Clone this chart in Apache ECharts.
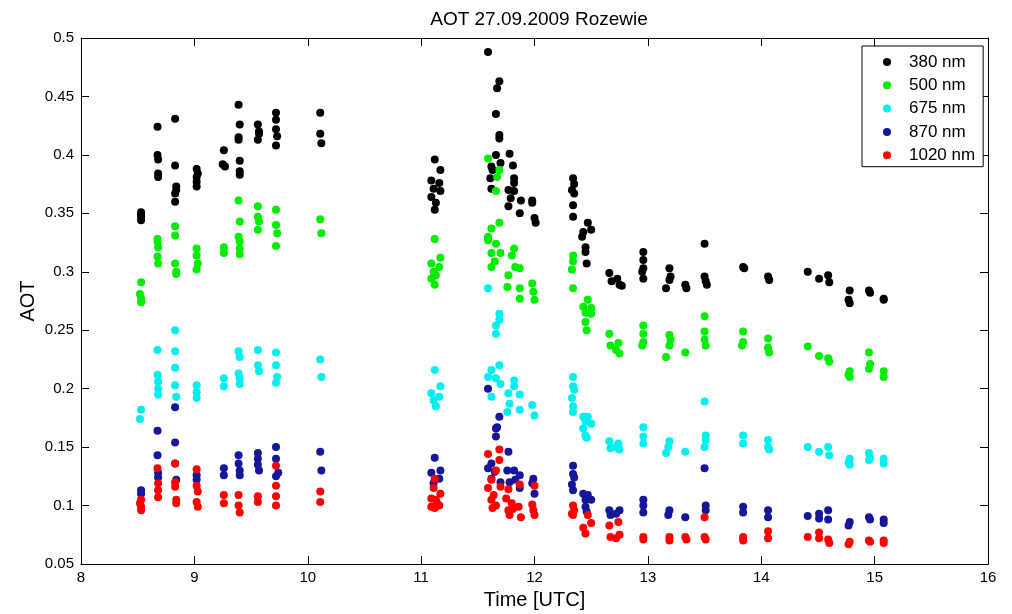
<!DOCTYPE html>
<html>
<head>
<meta charset="utf-8">
<script src="https://cdn.jsdelivr.net/npm/echarts@6/dist/echarts.min.js"></script>
<style>
html,body{margin:0;padding:0;background:#fff;}
#chart{width:1012px;height:614px;}
</style>
</head>
<body>
<div id="chart"></div>
<script>
// Data: [time (UTC hours), AOT]
var aot380 = [
[8.53,0.351],[8.53,0.349],[8.53,0.347],[8.53,0.344],
[8.675,0.424],[8.675,0.400],[8.68,0.396],[8.68,0.384],[8.68,0.381],
[8.83,0.431],[8.83,0.391],[8.84,0.373],[8.84,0.370],[8.83,0.367],[8.83,0.360],
[9.02,0.388],[9.03,0.384],[9.02,0.381],[9.02,0.377],[9.02,0.373],
[9.26,0.404],[9.25,0.392],[9.27,0.390],
[9.39,0.443],[9.40,0.426],[9.39,0.415],[9.39,0.413],[9.40,0.395],[9.40,0.386],[9.40,0.383],
[9.56,0.426],[9.57,0.420],[9.57,0.418],[9.56,0.413],
[9.72,0.436],[9.72,0.430],[9.72,0.422],[9.73,0.416],[9.72,0.408],
[10.11,0.436],[10.11,0.418],[10.12,0.410],
[11.12,0.396],[11.17,0.387],[11.09,0.378],[11.16,0.376],[11.11,0.371],[11.17,0.369],[11.09,0.364],[11.13,0.359],[11.12,0.353],
[11.59,0.488],[11.69,0.463],[11.67,0.457],[11.66,0.435],[11.69,0.417],[11.69,0.414],[11.66,0.400],
[11.62,0.390],[11.63,0.387],[11.61,0.380],[11.62,0.371],[11.70,0.393],
[11.78,0.401],[11.81,0.391],[11.82,0.380],[11.82,0.376],[11.77,0.370],[11.82,0.369],[11.79,0.363],[11.77,0.356],
[11.88,0.361],[11.87,0.350],[11.98,0.361],[11.98,0.359],[12.0,0.346],[12.01,0.342],
[12.34,0.380],[12.35,0.375],[12.33,0.370],[12.35,0.367],[12.34,0.357],[12.34,0.347],
[12.47,0.342],[12.43,0.334],[12.50,0.336],[12.42,0.330],[12.45,0.321],[12.45,0.317],[12.46,0.307],
[12.66,0.299],[12.68,0.292],[12.73,0.294],[12.75,0.289],[12.77,0.288],
[12.96,0.317],[12.96,0.310],[12.96,0.303],[12.95,0.300],[12.96,0.294],
[13.19,0.303],[13.20,0.296],[13.19,0.293],[13.16,0.286],
[13.33,0.289],[13.34,0.286],
[13.50,0.324],[13.50,0.296],[13.51,0.292],[13.52,0.289],
[13.84,0.304],[13.85,0.303],
[14.06,0.296],[14.07,0.293],
[14.41,0.300],[14.51,0.294],[14.59,0.297],[14.60,0.291],
[14.78,0.284],[14.77,0.276],[14.78,0.273],
[14.95,0.284],[14.96,0.282],
[15.08,0.277],[15.08,0.276]
];
var aot500 = [
[8.53,0.291],[8.52,0.281],[8.53,0.277],[8.53,0.274],
[8.675,0.328],[8.675,0.326],[8.68,0.321],[8.675,0.313],[8.68,0.307],
[8.83,0.339],[8.83,0.331],[8.83,0.307],[8.84,0.300],[8.84,0.298],
[9.02,0.320],[9.02,0.314],[9.03,0.307],[9.02,0.302],
[9.26,0.321],[9.26,0.316],
[9.39,0.361],[9.40,0.343],[9.39,0.330],[9.40,0.326],[9.40,0.320],[9.40,0.315],
[9.56,0.356],[9.56,0.347],[9.57,0.343],[9.56,0.336],
[9.72,0.353],[9.72,0.340],[9.73,0.333],[9.72,0.322],
[10.11,0.345],[10.12,0.333],
[11.12,0.328],[11.17,0.312],[11.09,0.307],[11.16,0.304],[11.11,0.300],[11.13,0.297],[11.09,0.294],[11.12,0.289],
[11.59,0.397],[11.69,0.387],[11.67,0.381],[11.66,0.369],
[11.69,0.342],[11.62,0.337],[11.59,0.330],
[11.59,0.327],[11.66,0.324],[11.62,0.316],[11.70,0.316],[11.62,0.304],[11.65,0.309],
[11.82,0.320],[11.80,0.314],[11.83,0.304],[11.87,0.303],
[11.77,0.297],[11.76,0.287],[11.87,0.286],[11.87,0.277],
[11.98,0.290],[11.99,0.283],[12.0,0.276],
[12.34,0.314],[12.34,0.309],[12.33,0.302],[12.34,0.286],
[12.47,0.276],[12.43,0.270],[12.50,0.269],[12.45,0.265],[12.50,0.264],[12.45,0.257],[12.46,0.250],
[12.66,0.247],[12.67,0.237],[12.74,0.239],[12.75,0.230],[12.72,0.233],
[12.96,0.254],[12.96,0.247],[12.96,0.240],[12.95,0.237],
[13.19,0.246],[13.20,0.242],[13.19,0.237],[13.16,0.227],
[13.33,0.231],
[13.50,0.262],[13.50,0.249],[13.50,0.242],[13.51,0.237],
[13.84,0.249],[13.84,0.240],[13.83,0.237],
[14.06,0.243],[14.06,0.235],[14.07,0.231],
[14.41,0.236],[14.51,0.228],[14.59,0.226],[14.60,0.223],
[14.78,0.215],[14.77,0.212],[14.78,0.210],
[14.95,0.231],[14.96,0.221],[14.95,0.217],
[15.08,0.215],[15.08,0.210]
];
var aot675 = [
[8.53,0.182],[8.52,0.174],
[8.675,0.233],[8.675,0.212],[8.68,0.206],[8.68,0.200],[8.68,0.195],
[8.83,0.250],[8.83,0.232],[8.83,0.218],[8.83,0.203],[8.84,0.193],
[9.02,0.203],[9.02,0.197],[9.02,0.192],
[9.26,0.209],[9.26,0.202],
[9.39,0.232],[9.40,0.227],[9.39,0.213],[9.40,0.209],[9.40,0.204],
[9.56,0.233],[9.56,0.220],[9.57,0.215],
[9.72,0.231],[9.72,0.220],[9.73,0.210],[9.72,0.205],
[10.11,0.225],[10.12,0.210],
[11.12,0.216],[11.17,0.202],[11.09,0.196],[11.16,0.193],[11.11,0.190],[11.13,0.185],
[11.59,0.286],[11.69,0.264],[11.69,0.259],[11.66,0.254],[11.66,0.247],
[11.69,0.220],[11.62,0.216],[11.59,0.210],[11.66,0.209],[11.70,0.204],[11.62,0.193],
[11.82,0.207],[11.82,0.202],[11.77,0.196],[11.87,0.195],[11.78,0.187],[11.76,0.180],
[11.87,0.182],[11.98,0.186],[12.0,0.177],
[12.34,0.210],[12.34,0.202],[12.35,0.199],[12.33,0.192],[12.34,0.185],[12.34,0.180],
[12.43,0.176],[12.47,0.176],[12.45,0.172],[12.50,0.170],[12.43,0.166],[12.45,0.160],[12.46,0.158],
[12.66,0.155],[12.67,0.149],[12.74,0.153],[12.75,0.148],[12.72,0.150],
[12.96,0.167],[12.96,0.159],[12.96,0.153],
[13.19,0.155],[13.18,0.150],[13.16,0.145],
[13.33,0.146],
[13.50,0.189],[13.51,0.160],[13.51,0.156],[13.50,0.150],
[13.84,0.160],[13.84,0.153],
[14.06,0.156],[14.06,0.150],[14.07,0.148],
[14.41,0.150],[14.51,0.146],[14.59,0.150],[14.60,0.143],
[14.78,0.140],[14.77,0.137],[14.78,0.135],
[14.95,0.145],[14.96,0.141],[14.95,0.139],
[15.08,0.140],[15.08,0.136]
];
var aot870 = [
[8.53,0.113],[8.53,0.110],
[8.675,0.164],[8.675,0.143],[8.68,0.128],[8.68,0.124],
[8.83,0.184],[8.83,0.154],[8.83,0.136],[8.84,0.122],
[9.02,0.126],[9.02,0.122],
[9.26,0.132],[9.26,0.126],
[9.39,0.143],[9.39,0.136],[9.40,0.130],[9.40,0.126],
[9.56,0.145],[9.56,0.140],[9.56,0.135],[9.57,0.130],
[9.72,0.150],[9.72,0.140],[9.74,0.128],[9.72,0.125],
[10.11,0.146],[10.12,0.130],
[11.12,0.141],[11.09,0.128],[11.17,0.130],[11.16,0.123],[11.11,0.119],
[11.59,0.200],[11.69,0.176],[11.67,0.167],[11.66,0.166],[11.66,0.159],
[11.77,0.146],
[11.62,0.136],[11.59,0.132],[11.65,0.129],[11.62,0.123],[11.70,0.120],
[11.76,0.130],[11.82,0.130],[11.83,0.122],[11.78,0.120],[11.87,0.126],[11.87,0.115],
[11.99,0.123],[11.98,0.119],[12.0,0.110],
[12.34,0.134],[12.34,0.127],[12.35,0.124],[12.33,0.118],[12.34,0.113],
[12.43,0.110],[12.47,0.109],[12.50,0.105],[12.45,0.105],[12.45,0.099],[12.46,0.095],
[12.66,0.096],[12.67,0.092],[12.75,0.096],[12.72,0.093],
[12.96,0.105],[12.96,0.100],[12.96,0.094],
[13.19,0.096],[13.18,0.092],
[13.33,0.090],
[13.50,0.132],[13.51,0.100],[13.51,0.096],
[13.84,0.099],[13.84,0.094],
[14.06,0.096],[14.06,0.090],
[14.41,0.091],[14.51,0.093],[14.51,0.089],[14.59,0.096],[14.59,0.088],
[14.78,0.086],[14.77,0.083],
[14.95,0.090],[14.96,0.088],
[15.08,0.088],[15.08,0.085]
];
var aot1020 = [
[8.53,0.105],[8.52,0.102],[8.53,0.099],[8.53,0.096],
[8.675,0.132],[8.68,0.119],[8.68,0.113],[8.68,0.107],
[8.83,0.136],[8.83,0.120],[8.83,0.116],[8.84,0.105],[8.84,0.102],
[9.02,0.131],[9.02,0.117],[9.03,0.112],[9.02,0.103],[9.03,0.099],
[9.26,0.109],[9.26,0.102],
[9.39,0.109],[9.39,0.100],[9.40,0.094],
[9.56,0.108],[9.56,0.103],
[9.72,0.134],[9.72,0.117],[9.72,0.108],[9.72,0.100],
[10.11,0.112],[10.11,0.103],
[11.12,0.123],[11.11,0.115],[11.17,0.110],[11.09,0.106],[11.13,0.105],[11.14,0.102],[11.16,0.100],[11.09,0.099],[11.12,0.098],
[11.59,0.144],[11.69,0.148],[11.69,0.139],[11.66,0.130],[11.62,0.122],[11.59,0.115],[11.70,0.116],[11.64,0.109],[11.62,0.105],[11.66,0.100],[11.63,0.098],
[11.77,0.114],[11.75,0.106],[11.80,0.102],[11.77,0.096],[11.81,0.097],[11.87,0.118],[11.86,0.099],[11.88,0.090],[11.78,0.092],
[12.0,0.117],[11.98,0.101],[11.99,0.096],[12.0,0.092],
[12.34,0.100],[12.35,0.096],[12.33,0.093],[12.34,0.092],
[12.47,0.092],[12.50,0.085],[12.43,0.081],[12.45,0.076],
[12.66,0.083],[12.74,0.086],[12.67,0.073],[12.75,0.075],[12.72,0.072],
[12.96,0.073],[12.96,0.071],
[13.19,0.073],[13.19,0.070],
[13.33,0.073],[13.34,0.071],
[13.50,0.090],[13.50,0.073],[13.51,0.071],
[13.84,0.073],[13.84,0.070],
[14.06,0.078],[14.06,0.072],
[14.41,0.073],[14.51,0.077],[14.51,0.072],[14.59,0.071],[14.60,0.068],
[14.78,0.069],[14.77,0.067],
[14.95,0.070],[14.96,0.069],
[15.08,0.070],[15.08,0.068]
];
var seriesNames = ['380 nm','500 nm','675 nm','870 nm','1020 nm'];
var seriesData = [aot380, aot500, aot675, aot870, aot1020];
var seriesColors = ['#000000','#00ee00','#00f0f0','#16169c','#ff0000'];
var xTicks = {min: 8, max: 16, interval: 1};
var yTicks = {min: 0.05, max: 0.5, interval: 0.05};

var FONT = "'Liberation Sans', Arial, Helvetica, sans-serif";
var chart = echarts.init(document.getElementById('chart'), null, {renderer: 'canvas'});

function axisBase(show) {
  return {
    type: 'value',
    axisLine: {show: true, onZero: false, lineStyle: {color: '#000', width: 1}},
    axisTick: {show: true, inside: true, length: 8, lineStyle: {color: '#000', width: 1}},
    axisLabel: {show: show, color: '#000', fontSize: 15, fontFamily: FONT},
    splitLine: {show: false}
  };
}

var xBottom = Object.assign(axisBase(true), {
  position: 'bottom', min: xTicks.min, max: xTicks.max, interval: xTicks.interval,
  name: 'Time [UTC]', nameLocation: 'middle', nameGap: 26, nameMoveOverlap: false,
  nameTextStyle: {color: '#000', fontSize: 20, fontFamily: FONT}
});
xBottom.axisLabel.margin = 6;
var xTop = Object.assign(axisBase(false), {
  position: 'top', min: xTicks.min, max: xTicks.max, interval: xTicks.interval
});
var yLeft = Object.assign(axisBase(true), {
  position: 'left', min: yTicks.min, max: yTicks.max, interval: yTicks.interval,
  name: 'AOT', nameLocation: 'middle', nameGap: 43, nameMoveOverlap: false,
  nameTextStyle: {color: '#000', fontSize: 20, fontFamily: FONT}
});
yLeft.axisLabel.margin = 7;
var yRight = Object.assign(axisBase(false), {
  position: 'right', min: yTicks.min, max: yTicks.max, interval: yTicks.interval
});

var series = seriesNames.map(function (n, i) {
  return {
    name: n, type: 'scatter', xAxisIndex: 0, yAxisIndex: 0,
    symbol: 'circle', symbolSize: 8,
    itemStyle: {color: seriesColors[i], opacity: 1},
    emphasis: {disabled: true},
    data: seriesData[i]
  };
});

chart.setOption({
  animation: false,
  backgroundColor: '#fff',
  title: {
    text: 'AOT 27.09.2009 Rozewie', left: 534, top: 5, textAlign: 'center',
    textStyle: {color: '#000', fontSize: 19, fontWeight: 'normal', fontFamily: FONT}
  },
  grid: {left: 81, right: 24, top: 38, bottom: 50, containLabel: false, outerBoundsMode: 'none'},
  legend: {
    data: seriesNames, orient: 'vertical', left: 862, top: 46,
    icon: 'circle', itemWidth: 34, itemHeight: 8, itemGap: 6.3,
    padding: [7.5, 8, 3, 21],
    backgroundColor: '#fff', borderColor: '#000', borderWidth: 1, borderRadius: 0,
    textStyle: {color: '#000', fontSize: 17, fontFamily: FONT, lineHeight: 17},
    selectedMode: false
  },
  xAxis: [xBottom, xTop],
  yAxis: [yLeft, yRight],
  series: series
});
</script>
</body>
</html>
